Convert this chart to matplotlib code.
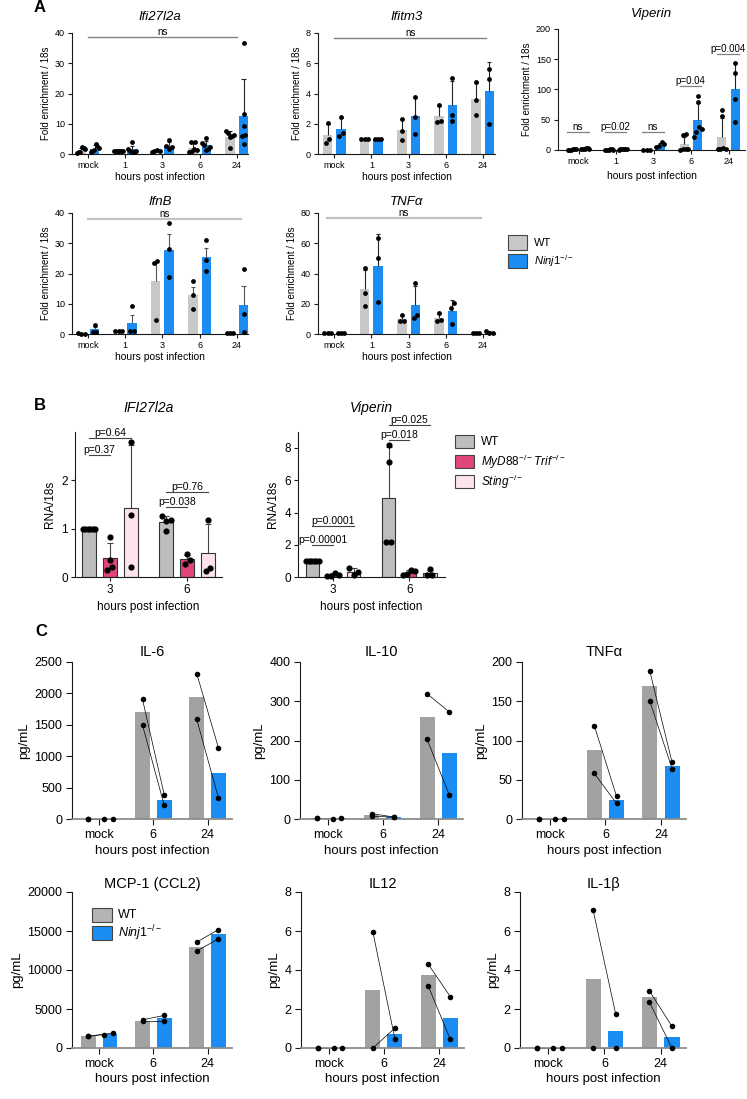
import numpy as np
import matplotlib
matplotlib.use("Agg")
import matplotlib.pyplot as plt
from matplotlib.patches import Rectangle

plt.rcParams["font.family"] = ["Liberation Sans", "DejaVu Sans"]
plt.rcParams["mathtext.fontset"] = "custom"
plt.rcParams["mathtext.rm"] = "Liberation Sans"
plt.rcParams["mathtext.it"] = "Liberation Sans:italic"
plt.rcParams["mathtext.bf"] = "Liberation Sans:bold"

# ---------------- data: panel A (fold enrichment / 18s, per replicate) ----------------
hours_a = ["mock", "1", "3", "6", "24"]

ifi27_wt = [[2.4, 2.0, 1.5, 0.8, 0.6, 0.3], [1.0, 1.0, 1.0, 1.0, 1.0, 1.0],
            [1.3, 1.0, 0.9, 0.8], [4.0, 3.9, 1.8, 1.4, 0.9, 0.6],
            [7.6, 7.0, 6.3, 6.0, 5.6, 2.0]]
ifi27_ko = [[3.4, 2.8, 2.0, 1.2, 0.9, 0.6], [4.0, 1.8, 1.0, 0.9, 0.8, 0.7],
            [4.6, 2.6, 2.2, 1.8], [5.4, 3.6, 2.9, 2.4, 1.6, 1.2],
            [36.6, 13.1, 9.2, 6.2, 6.0, 3.4]]

ifitm3_wt = [[2.05, 1.0, 0.7], [1.0, 1.0, 1.0], [2.3, 1.55, 0.9], [3.25, 2.1, 2.2], [4.75, 3.55, 2.6]]
ifitm3_ko = [[2.45, 1.4, 1.2], [1.0, 1.0, 1.0], [3.8, 2.45, 1.3], [5.05, 2.6, 2.15], [5.6, 4.95, 2.0]]

viperin_wt = [[1.5, 1.2, 1.0, 0.8, 0.6, 0.5], [1.0, 0.9, 0.8, 0.7, 0.6, 0.5], [0.5, 0.4, 0.3],
              [27, 25, 2, 1.5, 1, 0.5], [66, 57, 4, 2, 1, 1]]
viperin_ko = [[3.0, 2.6, 2.0, 1.6, 1.2, 1.0], [1.8, 1.5, 1.2, 1.0, 0.9, 0.8], [12.5, 9.5, 6.0, 4.5],
              [90, 80, 38, 35, 30, 22], [143, 127, 85, 46]]
viperin_stats = ["ns", "p=0.02", "ns", "p=0.04", "p=0.004"]
viperin_stat_y = [29, 29, 29, 105.5, 158]

ifnb_wt = [[0.1, 0.4, 0.1], [1.0, 1.0, 1.0], [24.2, 23.4, 4.7], [17.5, 12.8, 8.4], [0.3, 0.3, 0.3]]
ifnb_ko = [[3.1, 0.7, 0.7], [9.1, 1.0, 1.0], [36.8, 28.2, 18.8], [31.0, 24.4, 20.8], [21.6, 6.7, 0.7]]

tnf_wt = [[0.6, 0.6, 0.6], [43.7, 27.2, 18.8], [12.6, 8.7, 8.7], [13.6, 8.3, 9.5], [0.5, 0.5, 0.5]]
tnf_ko = [[0.7, 0.7, 0.7], [63.2, 50.0, 21.2], [33.4, 10.8, 12.4], [20.8, 17.5, 6.4], [1.9, 0.7, 0.7]]

# ---------------- data: panel B (RNA / 18s) ----------------
hours_b = ["3", "6"]
ifi_b_wt = [[1.0, 1.0, 1.0, 1.0, 1.0, 1.0], [1.26, 1.19, 1.15, 0.95]]
ifi_b_myd = [[0.84, 0.35, 0.22, 0.15], [0.47, 0.36, 0.28]]
ifi_b_sting = [[2.78, 1.29, 0.22], [1.18, 0.2, 0.13]]
ifi_b_pvals = ["p=0.37", "p=0.64", "p=0.038", "p=0.76"]
ifi_b_py = [2.51, 2.88, 1.45, 1.76]

vip_b_wt = [[1.0, 1.0, 1.0, 1.0, 1.0, 1.0], [8.15, 7.1, 2.16, 2.16]]
vip_b_myd = [[0.29, 0.14, 0.1, 0.08], [0.48, 0.38, 0.2, 0.12]]
vip_b_sting = [[0.59, 0.31, 0.14], [0.51, 0.14, 0.14]]
vip_b_pvals = ["p=0.00001", "p=0.0001", "p=0.018", "p=0.025"]
vip_b_py = [1.98, 3.17, 8.47, 9.44]

# ---------------- data: panel C (pg/mL, paired samples) ----------------
hours_c = ["mock", "6", "24"]
il6_wt = [[0, 0], [1904, 1495], [2314, 1585]]
il6_ko = [[0, 0], [388, 218], [1133, 335]]
il10_wt = [[2, 2], [13.6, 6.8], [319, 203]]
il10_ko = [[1, 2], [5, 5], [273, 62]]
tnfc_wt = [[0, 0], [119, 58], [188, 150]]
tnfc_ko = [[0, 0], [29, 20], [72, 64]]
mcp1_wt = [[1574, 1489], [3617, 3404], [13574, 12425]]
mcp1_ko = [[1702, 1915], [4170, 3404], [15191, 14000]]
il12_wt = [[0, 0], [5.96, 0], [4.31, 3.2]]
il12_ko = [[0, 0], [0.46, 1.02], [2.64, 0.46]]
il1b_wt = [[0, 0], [7.06, 0], [2.93, 2.35]]
il1b_ko = [[0, 0], [1.75, 0], [1.11, 0]]

# ---------------- styles ----------------
A_GRAY = "#c8c8c8"
C_GRAY = "#a2a2a2"
BLUE = "#1a8cf2"
B_COLORS = ["#bdbdbd", "#e0457b", "#fce4ea"]
AXC = "#1a1a1a"

W, H = 747, 1099
fig = plt.figure(figsize=(W / 100, H / 100), dpi=100)


def add_ax(x0, y0, x1, y1):
    return fig.add_axes([x0 / W, 1 - y1 / H, (x1 - x0) / W, (y1 - y0) / H])


def ftext(x, y, s, **kw):
    fig.text(x / W, 1 - y / H, s, **kw)


def frect(x, y, w, h, fc):
    fig.add_artist(Rectangle((x / W, 1 - (y + h) / H), w / W, h / H, transform=fig.transFigure,
                             fc=fc, ec="#444444", lw=0.8))


def style(ax, ymax, ystep, xlim, labels, fs, tlen=3):
    for s in ["top", "right"]:
        ax.spines[s].set_visible(False)
    for s in ["left", "bottom"]:
        ax.spines[s].set_color(AXC)
        ax.spines[s].set_linewidth(0.8)
    ax.set_ylim(0, ymax)
    ax.set_yticks(np.arange(0, ymax + ystep / 2, ystep))
    ax.set_xlim(*xlim)
    ax.set_xticks(range(len(labels)), labels)
    ax.tick_params(labelsize=fs, length=tlen, width=0.8, pad=2, color=AXC)
    ax.set_facecolor("none")


def swarm(vals, thr, step, maxw):
    # spread overlapping points sideways, alternating left/right around the centre
    vals = np.asarray(vals, float)
    order = np.argsort(vals)
    offs = np.zeros(len(vals))
    groups = [[order[0]]]
    for i in order[1:]:
        if vals[i] - vals[groups[-1][-1]] < thr:
            groups[-1].append(i)
        else:
            groups.append([i])
    for g in groups:
        n = len(g)
        if n > 1:
            w = min(step, maxw / (n - 1))
            slots = [(k - (n - 1) / 2) * w for k in range(n)]
            slots.sort(key=lambda s: (abs(s), s))
            zig = sorted(slots[0::2]) + sorted(slots[1::2], reverse=True)
            for k, i in enumerate(g):
                offs[i] = zig[k] if k < len(zig) else 0
    return offs


def draw_groups(ax, series, colors, offsets, width, ymax, hpx, err="sd", ecolor="#222222",
                edge=None, dot=12, step=0.09, maxw=0.22):
    for pts_list, color, off in zip(series, colors, offsets):
        for i, pts in enumerate(pts_list):
            pts = np.asarray(pts, float)
            m = pts.mean()
            e = pts.std(ddof=1)
            if err == "sem":
                e /= np.sqrt(len(pts))
            x = i + off
            ax.bar(x, m, width=width, color=color, zorder=1,
                   edgecolor=edge if edge else "none", linewidth=0.8 if edge else 0)
            if e > 1e-9:
                ax.vlines(x, m, m + e, color=ecolor, lw=0.8, zorder=2)
                ax.hlines(m + e, x - width * 0.22, x + width * 0.22, color=ecolor, lw=0.8, zorder=2)
            dx = swarm(pts, ymax * 5 / hpx, step, maxw)
            ax.scatter(x + dx, pts, s=dot, color="k", lw=0, zorder=3, clip_on=False)


def ns_line(ax, x0, x1, y, txt, color, lw, fs=7):
    ax.plot([x0, x1], [y, y], color=color, lw=lw, clip_on=False, zorder=4)
    ax.text((x0 + x1) / 2, y, txt, ha="center", va="bottom", fontsize=fs, clip_on=False)


# ---------------- panel A ----------------
a_panels = [
    (ifi27_wt, ifi27_ko, "Ifi27l2a", (72, 33, 248, 154), 40, 10, (-0.43, 4.3), "sd", (0, 4.0), 38.6, 17, 177, "#808080", 1.0),
    (ifitm3_wt, ifitm3_ko, "Ifitm3", (318, 33, 495, 154), 8, 2, (-0.44, 4.33), "sd", (0, 4.1), 7.67, 17, 177, "#808080", 1.0),
    (viperin_wt, viperin_ko, "Viperin", (558, 29, 745, 150), 200, 50, (-0.55, 4.44), "sd", None, 0, 14, 176, None, 0),
    (ifnb_wt, ifnb_ko, "IfnB", (72, 213, 248, 334), 40, 10, (-0.43, 4.3), "sem", (0, 4.1), 38.1, 202, 357, "#c4c4c4", 1.6),
    (tnf_wt, tnf_ko, "TNFα", (318, 213, 495, 334), 80, 20, (-0.44, 4.33), "sd", (-0.2, 3.95), 76.5, 202, 357, "#c4c4c4", 1.6),
]
for wt, ko, title, box, ymax, step, xlim, err, span, nsy, ty, ly, nsc, nslw in a_panels:
    ax = add_ax(*box)
    style(ax, ymax, step, xlim, hours_a, 6.5)
    ecol = "#555555" if err == "sem" else "#222222"
    draw_groups(ax, [wt, ko], [A_GRAY, BLUE], [-0.18, 0.18], 0.25, ymax, box[3] - box[1], err=err, ecolor=ecol)
    ax.set_ylabel("Fold enrichment / 18s", fontsize=7, labelpad=3)
    cx = (box[0] + box[2]) / 2
    ftext(cx, ty, title, ha="center", va="center", fontsize=9.5, style="italic")
    ftext(cx, ly, "hours post infection", ha="center", va="center", fontsize=7.5)
    if span is not None:
        ns_line(ax, span[0], span[1], nsy, "ns", nsc, nslw)
    if title == "Viperin":
        for i, (s, y) in enumerate(zip(viperin_stats, viperin_stat_y)):
            ns_line(ax, i - 0.3, i + 0.27, y, s, "#808080", 0.9)

ftext(40, 8, "A", ha="center", va="center", fontsize=12, weight="bold")

frect(508, 235, 19, 15, A_GRAY)
frect(508, 254, 19, 14, BLUE)
ftext(534, 242.5, "WT", ha="left", va="center", fontsize=8)
ftext(534, 261, r"$\it{Ninj1}^{-/-}$", ha="left", va="center", fontsize=8)

# ---------------- panel B ----------------
b_panels = [
    (ifi_b_wt, ifi_b_myd, ifi_b_sting, "IFI27l2a", (75, 431.7, 222, 577.3), 3, 1, (-0.45, 1.45), ifi_b_pvals, ifi_b_py),
    (vip_b_wt, vip_b_myd, vip_b_sting, "Viperin", (298, 431.7, 445, 577.3), 9, 2, (-0.46, 1.47), vip_b_pvals, vip_b_py),
]
for wt, myd, sting, title, box, ymax, step, xlim, pvals, py in b_panels:
    ax = add_ax(*box)
    style(ax, ymax, step, xlim, hours_b, 8.5)
    ax.set_yticks(np.arange(0, ymax, step))
    draw_groups(ax, [wt, myd, sting], B_COLORS, [-0.27, 0.0, 0.27], 0.18, ymax, box[3] - box[1],
                ecolor="#444444", edge="#333333", dot=20, step=0.06, maxw=0.16)
    ax.set_ylabel("RNA/18s", fontsize=8.5, labelpad=4)
    cx = (box[0] + box[2]) / 2
    ftext(cx, 408, title, ha="center", va="center", fontsize=10, style="italic")
    ftext(cx, 607, "hours post infection", ha="center", va="center", fontsize=8.5)
    # brackets: WT vs MyD88/Trif and WT vs Sting for each time point
    targets = [0.0, 0.27, 0.0, 0.27]
    for k, (s, y) in enumerate(zip(pvals, py)):
        g = k // 2
        ns_line(ax, g - 0.27, g + targets[k], y, s, "#444444", 0.8, fs=7.5)

ftext(40, 405, "B", ha="center", va="center", fontsize=12, weight="bold")
b_labels = ["WT", r"$\it{MyD88}^{-/-}\it{Trif}^{-/-}$", r"$\it{Sting}^{-/-}$"]
for k, (lab, col) in enumerate(zip(b_labels, B_COLORS)):
    frect(455, 435 + 20 * k, 19, 13, col)
    ftext(481, 442 + 20 * k, lab, ha="left", va="center", fontsize=8.5)

# ---------------- panel C ----------------
c_panels = [
    (il6_wt, il6_ko, "IL-6", (72, 662, 232, 819), 2500, 500),
    (il10_wt, il10_ko, "IL-10", (300, 662, 463, 819), 400, 100),
    (tnfc_wt, tnfc_ko, "TNFα", (522, 662, 686, 819), 200, 50),
    (mcp1_wt, mcp1_ko, "MCP-1 (CCL2)", (72, 892, 232, 1048), 20000, 5000),
    (il12_wt, il12_ko, "IL12", (301, 892, 464, 1048), 8, 2),
    (il1b_wt, il1b_ko, "IL-1β", (520, 892, 686, 1048), 8, 2),
]
for wt, ko, title, box, ymax, step in c_panels:
    ax = add_ax(*box)
    style(ax, ymax, step, (-0.5, 2.45), hours_c, 9, tlen=4)
    ax.tick_params(pad=3)
    ax.spines["bottom"].set_color("#8c8c8c")
    ax.spines["bottom"].set_linewidth(1.3)
    for i in range(len(hours_c)):
        wx, kx = i - 0.2, i + 0.2
        ax.bar(wx, np.mean(wt[i]), 0.27, color=C_GRAY, zorder=1)
        ax.bar(kx, np.mean(ko[i]), 0.27, color=BLUE, zorder=1)
        n = len(wt[i])
        wxs = [wx] * n
        kxs = [i + 0.09, i + 0.25] if i == 0 else [kx] * n
        for a, b, c, d in zip(wxs, wt[i], kxs, ko[i]):
            ax.plot([a, c], [b, d], color="k", lw=0.5, zorder=2, clip_on=False)
        ax.scatter(wxs, wt[i], s=16, color="k", lw=0, zorder=3, clip_on=False)
        ax.scatter(kxs, ko[i], s=16, color="k", lw=0, zorder=3, clip_on=False)
    ax.set_ylabel("pg/mL", fontsize=9.5, labelpad=3)
    cx = (box[0] + box[2]) / 2
    row1 = box[1] < 800
    ftext(cx, 652 if row1 else 884, title, ha="center", va="center", fontsize=10.5)
    ftext(cx, 851 if row1 else 1079, "hours post infection", ha="center", va="center", fontsize=9.5)

ftext(41, 632, "C", ha="center", va="center", fontsize=12, weight="bold")
frect(92, 908, 20, 14, "#b4b4b4")
frect(92, 926, 20, 14, BLUE)
ftext(118, 915, "WT", ha="left", va="center", fontsize=9)
ftext(118, 933, r"$\it{Ninj1}^{-/-}$", ha="left", va="center", fontsize=9)

fig.savefig("out.png", dpi=100)
